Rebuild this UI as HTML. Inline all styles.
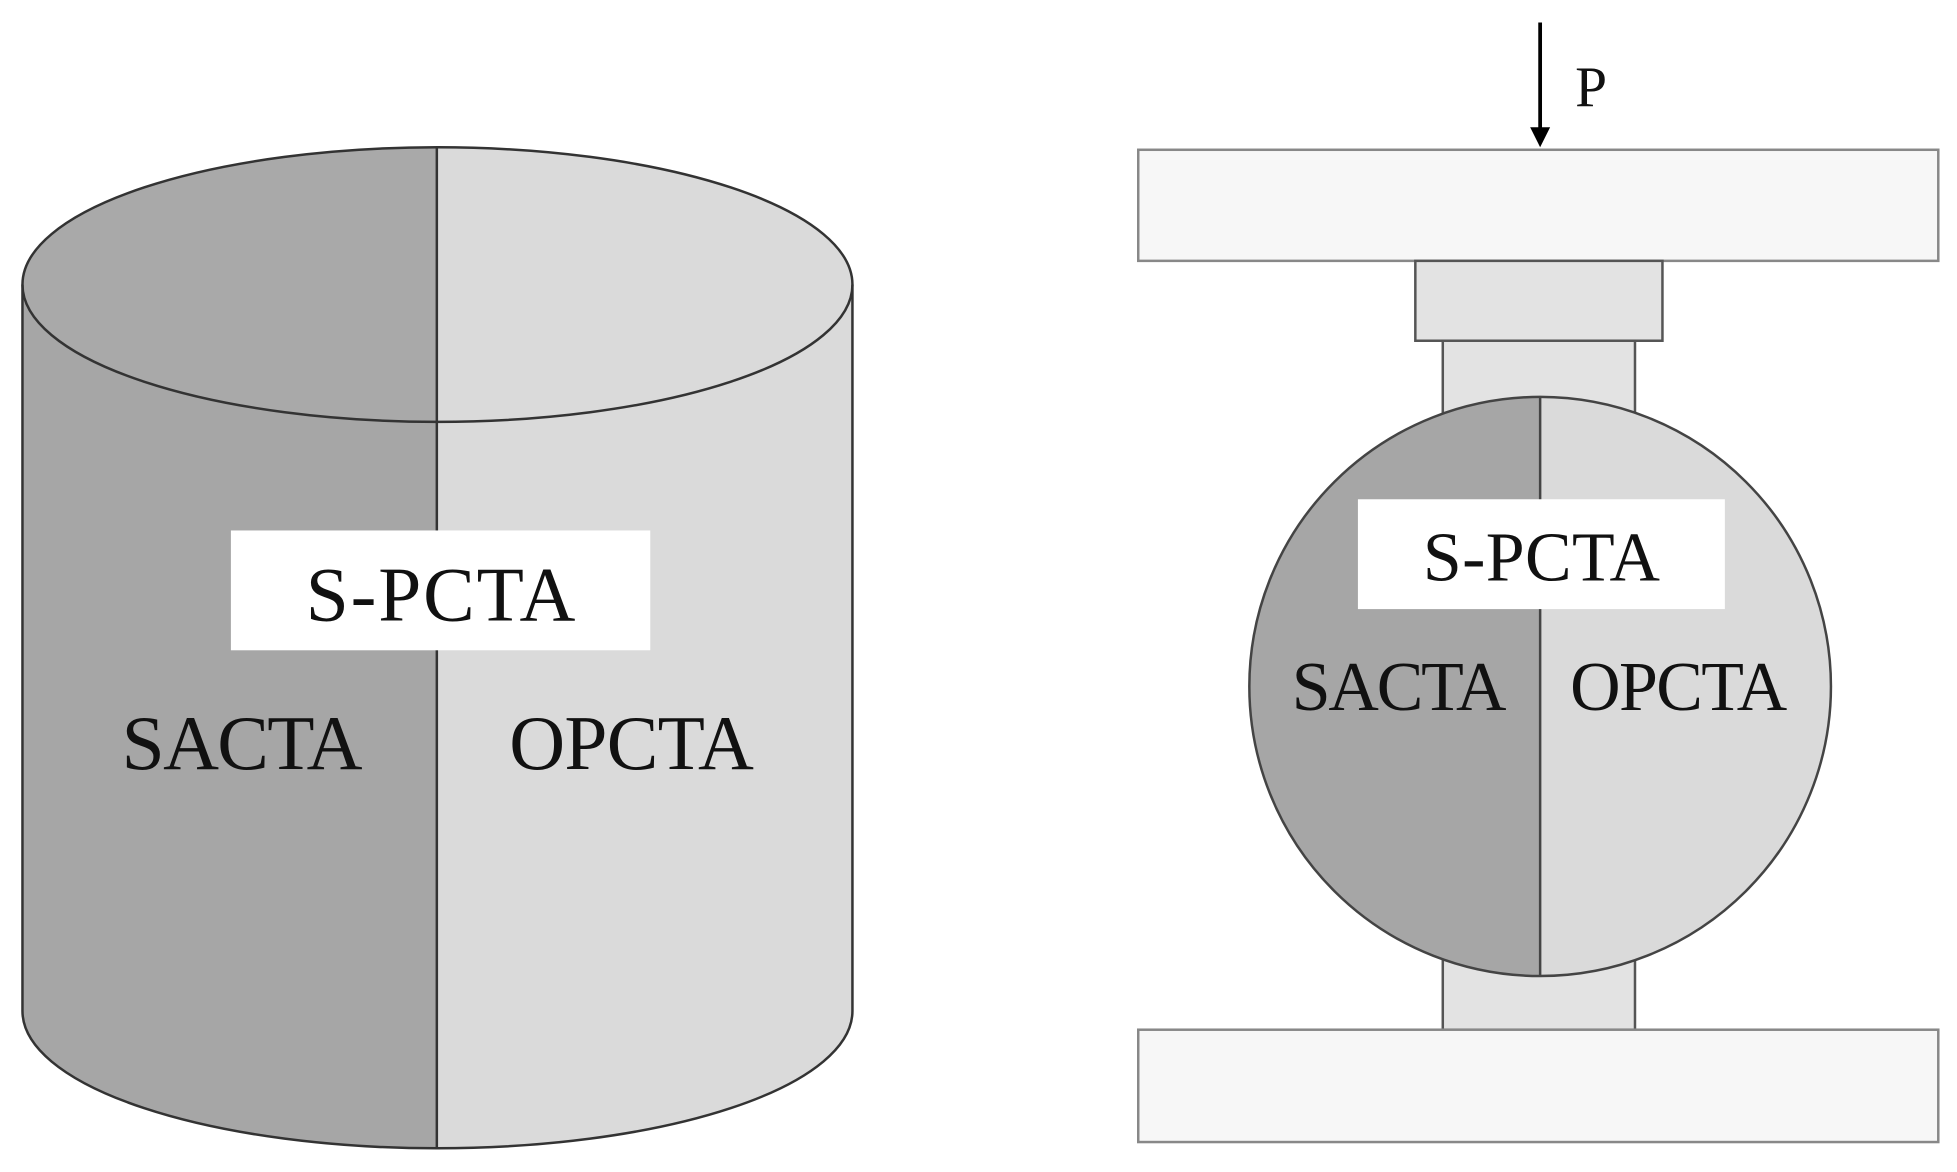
<!DOCTYPE html>
<html><head><style>html,body{margin:0;padding:0;background:#fff;}svg{display:block;}</style></head>
<body>
<svg width="1957" height="1172" viewBox="0 0 1568 939" preserveAspectRatio="none" xmlns="http://www.w3.org/2000/svg" font-family="Liberation Serif, serif">
<!-- Cylinder -->
<path d="M18,228 L18,810 A332,110 0 0 0 350,920 L350,118 A332,110 0 0 0 18,228 Z" fill="#a6a6a6"/>
<path d="M683,228 L683,810 A333,110 0 0 1 350,920 L350,118 A333,110 0 0 1 683,228 Z" fill="#dadada"/>
<path d="M18,228 A332,110 0 0 0 350,338 L350,118 A332,110 0 0 0 18,228 Z" fill="#a9a9a9"/>
<ellipse cx="350.5" cy="228" rx="332.5" ry="110" fill="none" stroke="#333" stroke-width="2"/>
<path d="M18,228 L18,810 A332.5,110 0 0 0 683,810 L683,228" fill="none" stroke="#333" stroke-width="2"/>
<line x1="350" y1="118" x2="350" y2="920" stroke="#333" stroke-width="2"/>
<rect x="185" y="425" width="336" height="96" fill="#fff"/>
<text x="353" y="497" font-size="62" text-anchor="middle" fill="#111" textLength="216">S-PCTA</text>
<text x="194" y="616" font-size="62" text-anchor="middle" fill="#111" textLength="193">SACTA</text>
<text x="506" y="616" font-size="62" text-anchor="middle" fill="#111" textLength="196">OPCTA</text>
<!-- Right figure -->
<line x1="1234" y1="18" x2="1234" y2="104" stroke="#000" stroke-width="3"/>
<path d="M1226,102 L1242,102 L1234,118 Z" fill="#000"/>
<text x="1262" y="85" font-size="46" fill="#111">P</text>
<rect x="912" y="120" width="641" height="89" fill="#f7f7f7" stroke="#888" stroke-width="2"/>
<rect x="1134" y="209" width="198" height="64" fill="#e3e3e3" stroke="#555" stroke-width="2"/>
<rect x="1156" y="273" width="154" height="552" fill="#e3e3e3" stroke="#555" stroke-width="2"/>
<path d="M1234,318 A233,232 0 0 0 1234,782 Z" fill="#a6a6a6"/>
<path d="M1234,318 A233,232 0 0 1 1234,782 Z" fill="#dadada"/>
<ellipse cx="1234" cy="550" rx="233" ry="232" fill="none" stroke="#444" stroke-width="2"/>
<line x1="1234" y1="318" x2="1234" y2="782" stroke="#444" stroke-width="2"/>
<rect x="912" y="825" width="641" height="90" fill="#f7f7f7" stroke="#888" stroke-width="2"/>
<rect x="1088" y="400" width="294" height="88" fill="#fff"/>
<text x="1235" y="465" font-size="56" text-anchor="middle" fill="#111" textLength="190">S-PCTA</text>
<text x="1121" y="569" font-size="56" text-anchor="middle" fill="#111" textLength="172">SACTA</text>
<text x="1345" y="569" font-size="56" text-anchor="middle" fill="#111" textLength="174">OPCTA</text>
</svg>
</body></html>
